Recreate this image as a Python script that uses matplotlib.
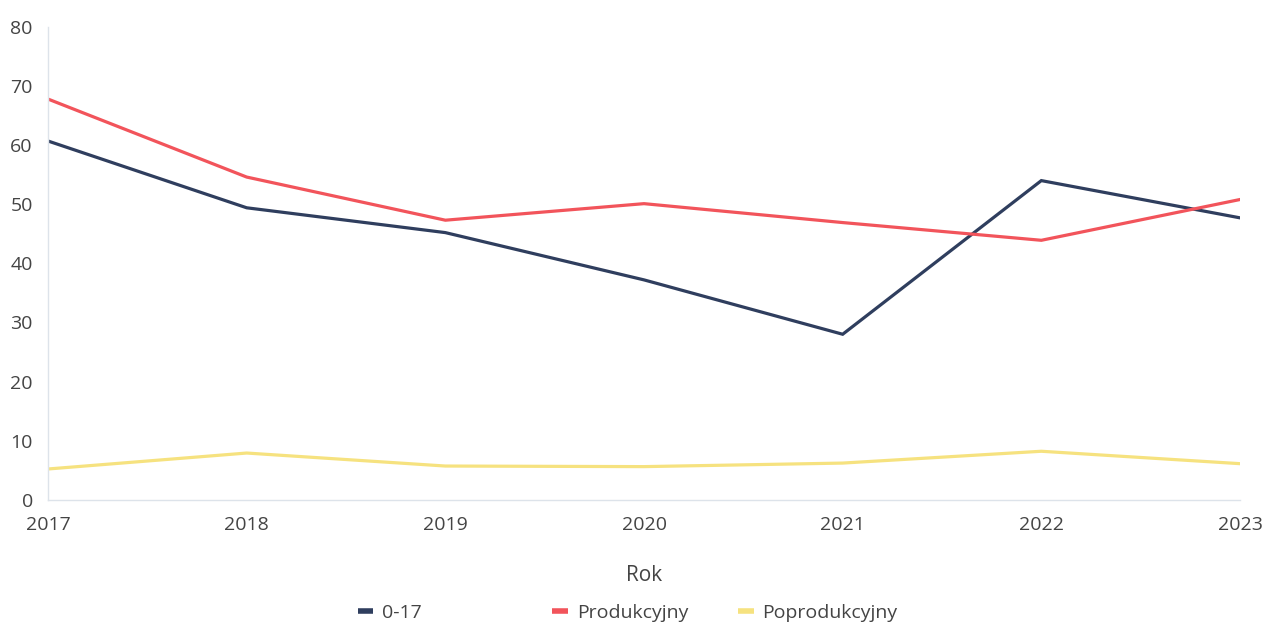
import matplotlib
matplotlib.use("Agg")
import matplotlib.pyplot as plt

# data
years = [2017, 2018, 2019, 2020, 2021, 2022, 2023]
kids = [60.7, 49.4, 45.2, 37.2, 28.0, 54.0, 47.7]
prod = [67.8, 54.6, 47.3, 50.1, 46.9, 43.9, 50.8]
poprod = [5.2, 7.9, 5.7, 5.6, 6.2, 8.2, 6.1]

names = ["0-17", "Produkcyjny", "Poprodukcyjny"]
colors = ["#2f3e5e", "#f2545b", "#f6e27f"]

plt.rcParams['font.family'] = ['Open Sans', 'DejaVu Sans']

fig = plt.figure(figsize=(12.64, 6.27), dpi=100)
ax = fig.add_axes([0.038, 0.203, 0.943, 0.754])

lines = []
for vals, name, c in zip([kids, prod, poprod], names, colors):
    l, = ax.plot(years, vals, color=c, lw=2.3, label=name, solid_joinstyle='miter')
    lines.append(l)

ax.set_xlim(2017, 2023)
ax.set_ylim(0, 80)
ax.set_xticks(years)
ax.set_yticks(range(0, 81, 10))
ax.tick_params(length=0, labelsize=14, colors='#444444')
ax.tick_params(axis='x', pad=12)
ax.tick_params(axis='y', pad=11)
for s in ['top', 'right']:
    ax.spines[s].set_visible(False)
for s in ['left', 'bottom']:
    ax.spines[s].set_color('#dde3ea')
    ax.spines[s].set_linewidth(1)
ax.set_xlabel("Rok", fontsize=15, color='#444444', labelpad=22)

# legend entries sit in fixed-width slots, so one small legend each
for l, name, xpos in zip(lines, names, [0.283, 0.437, 0.584]):
    leg = fig.legend([l], [name], loc='center left', bbox_to_anchor=(xpos, 0.022),
                     frameon=False, fontsize=14, handlelength=0.8, handletextpad=0.45,
                     borderpad=0, borderaxespad=0, labelcolor='#444444')
    for h in leg.get_lines():
        h.set_linewidth(4)
        h.set_solid_capstyle('butt')

fig.savefig("out.png", dpi=100)
